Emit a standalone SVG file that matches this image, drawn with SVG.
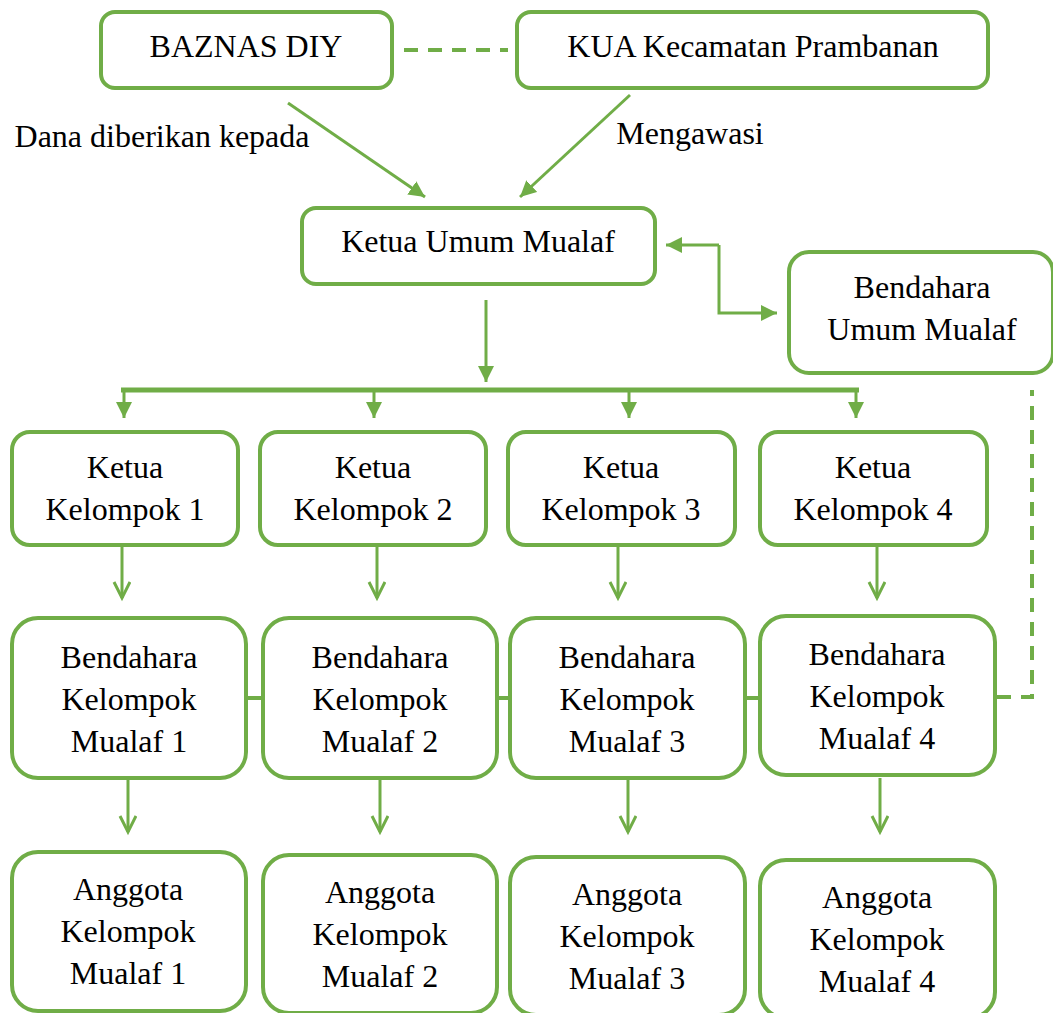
<svg xmlns="http://www.w3.org/2000/svg" width="1053" height="1013" viewBox="0 0 1053 1013">
<style>
.box{fill:#fff;stroke:#70AD47;stroke-width:4}
.t{font-family:'Liberation Serif','Tinos','Times New Roman','DejaVu Serif',serif;font-size:32px;fill:#000;text-anchor:middle}
.ln{fill:none;stroke:#70AD47;stroke-width:3}
.dash{fill:none;stroke:#70AD47;stroke-width:4;stroke-dasharray:14 10}
</style>
<defs>
<marker id="fa" markerUnits="userSpaceOnUse" markerWidth="20" markerHeight="20" refX="16" refY="8" orient="auto">
<path d="M0,0 L16,8 L0,16 Z" fill="#70AD47"/>
</marker>
<marker id="oa" markerUnits="userSpaceOnUse" markerWidth="24" markerHeight="24" refX="17" refY="9" orient="auto">
<path d="M1,1 L17,9 L1,17" fill="none" stroke="#70AD47" stroke-width="3"/>
</marker>
</defs>
<rect width="1053" height="1013" fill="#fff"/>
<g id="connectors">
<line class="dash" x1="404" y1="50" x2="508" y2="50"/>
<line class="ln" x1="288" y1="103" x2="425" y2="197" marker-end="url(#fa)"/>
<line class="ln" x1="630" y1="95" x2="520" y2="197" marker-end="url(#fa)"/>
<polyline class="ln" points="719,245 719,313 777,313" marker-end="url(#fa)"/>
<line class="ln" x1="719" y1="245" x2="666" y2="245" marker-end="url(#fa)"/>
<line class="ln" x1="486" y1="300" x2="486" y2="382" marker-end="url(#fa)"/>
<polyline fill="none" stroke="#70AD47" stroke-width="5" points="121,390 859,390"/>
<line class="ln" x1="124" y1="390" x2="124" y2="418" marker-end="url(#fa)"/>
<line class="ln" x1="374" y1="390" x2="374" y2="418" marker-end="url(#fa)"/>
<line class="ln" x1="629" y1="390" x2="629" y2="418" marker-end="url(#fa)"/>
<line class="ln" x1="856" y1="390" x2="856" y2="418" marker-end="url(#fa)"/>
<line class="ln" x1="122" y1="547" x2="122" y2="598" marker-end="url(#oa)"/>
<line class="ln" x1="377" y1="547" x2="377" y2="598" marker-end="url(#oa)"/>
<line class="ln" x1="618" y1="547" x2="618" y2="598" marker-end="url(#oa)"/>
<line class="ln" x1="877" y1="547" x2="877" y2="598" marker-end="url(#oa)"/>
<line class="ln" x1="128" y1="780" x2="128" y2="832" marker-end="url(#oa)"/>
<line class="ln" x1="380" y1="780" x2="380" y2="832" marker-end="url(#oa)"/>
<line class="ln" x1="628" y1="780" x2="628" y2="832" marker-end="url(#oa)"/>
<line class="ln" x1="880" y1="778" x2="880" y2="832" marker-end="url(#oa)"/>
<line class="dash" x1="247" y1="698" x2="262" y2="698"/>
<line class="dash" x1="498" y1="698" x2="509" y2="698" stroke-dasharray="4 3"/>
<line class="dash" x1="746" y1="698" x2="759" y2="698"/>
<polyline class="dash" points="997,697 1032,697 1032,390" stroke-dasharray="13 10"/>
</g>
<g id="baznas"><rect class="box" x="101" y="12" width="291" height="76" rx="14"/><text class="t" x="246" y="57">BAZNAS DIY</text></g>
<g id="kua"><rect class="box" x="517" y="12" width="471" height="76" rx="14"/><text class="t" x="753" y="57">KUA Kecamatan Prambanan</text></g>
<text class="t" x="162" y="147">Dana diberikan kepada</text>
<text class="t" x="690" y="144">Mengawasi</text>
<g id="ketua-umum"><rect class="box" x="302" y="208" width="353" height="76" rx="14"/><text class="t" x="478" y="252">Ketua Umum Mualaf</text></g>
<g id="bendahara-umum"><rect class="box" x="789" y="252" width="264" height="121" rx="20"/><text class="t" x="922" y="298">Bendahara</text><text class="t" x="922" y="340">Umum Mualaf</text></g>
<g id="ketua1"><rect class="box" x="12" y="432" width="226" height="113" rx="18"/><text class="t" x="125" y="478">Ketua</text><text class="t" x="125" y="520">Kelompok 1</text></g>
<g id="ketua2"><rect class="box" x="260" y="432" width="226" height="113" rx="18"/><text class="t" x="373" y="478">Ketua</text><text class="t" x="373" y="520">Kelompok 2</text></g>
<g id="ketua3"><rect class="box" x="508" y="432" width="227" height="113" rx="18"/><text class="t" x="621" y="478">Ketua</text><text class="t" x="621" y="520">Kelompok 3</text></g>
<g id="ketua4"><rect class="box" x="760" y="432" width="227" height="113" rx="18"/><text class="t" x="873" y="478">Ketua</text><text class="t" x="873" y="520">Kelompok 4</text></g>
<g id="bendahara1"><rect class="box" x="12" y="618" width="234" height="160" rx="26"/><text class="t" x="129" y="668">Bendahara</text><text class="t" x="129" y="710">Kelompok</text><text class="t" x="129" y="752">Mualaf 1</text></g>
<g id="bendahara2"><rect class="box" x="263" y="618" width="234" height="160" rx="26"/><text class="t" x="380" y="668">Bendahara</text><text class="t" x="380" y="710">Kelompok</text><text class="t" x="380" y="752">Mualaf 2</text></g>
<g id="bendahara3"><rect class="box" x="510" y="618" width="235" height="160" rx="26"/><text class="t" x="627" y="668">Bendahara</text><text class="t" x="627" y="710">Kelompok</text><text class="t" x="627" y="752">Mualaf 3</text></g>
<g id="bendahara4"><rect class="box" x="760" y="616" width="235" height="159" rx="26"/><text class="t" x="877" y="665">Bendahara</text><text class="t" x="877" y="707">Kelompok</text><text class="t" x="877" y="749">Mualaf 4</text></g>
<g id="anggota1"><rect class="box" x="12" y="852" width="234" height="159" rx="26"/><text class="t" x="128" y="900">Anggota</text><text class="t" x="128" y="942">Kelompok</text><text class="t" x="128" y="984">Mualaf 1</text></g>
<g id="anggota2"><rect class="box" x="263" y="855" width="234" height="158" rx="26"/><text class="t" x="380" y="903">Anggota</text><text class="t" x="380" y="945">Kelompok</text><text class="t" x="380" y="987">Mualaf 2</text></g>
<g id="anggota3"><rect class="box" x="510" y="857" width="235" height="158" rx="26"/><text class="t" x="627" y="905">Anggota</text><text class="t" x="627" y="947">Kelompok</text><text class="t" x="627" y="989">Mualaf 3</text></g>
<g id="anggota4"><rect class="box" x="760" y="860" width="235" height="158" rx="26"/><text class="t" x="877" y="908">Anggota</text><text class="t" x="877" y="950">Kelompok</text><text class="t" x="877" y="992">Mualaf 4</text></g>
</svg>
